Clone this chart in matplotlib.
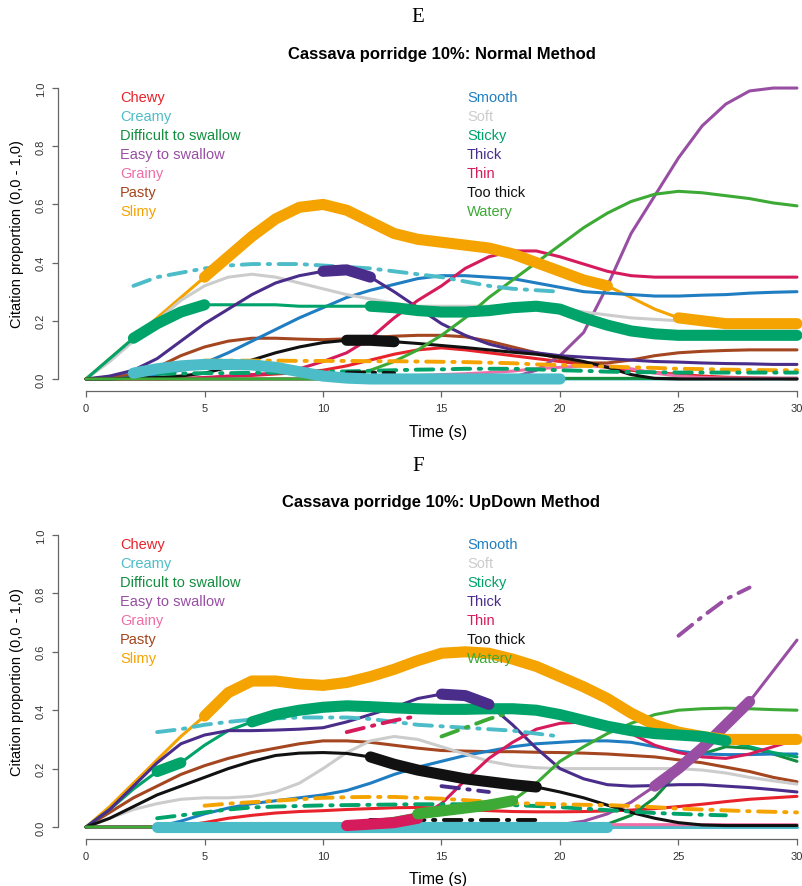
import numpy as np
import matplotlib.pyplot as plt

plt.rcParams['font.family'] = ['Liberation Sans', 'DejaVu Sans']

time = list(range(31))

attributes = ["Chewy", "Creamy", "Difficult to swallow", "Easy to swallow", "Grainy", "Pasty", "Slimy",
              "Smooth", "Soft", "Sticky", "Thick", "Thin", "Too thick", "Watery"]
colors = ["#E8232B", "#4CBDC8", "#138E3F", "#984EA3", "#EE6EA7", "#A4461F", "#F5A300",
          "#1F7DC1", "#CCCCCC", "#00A36A", "#4A2D8A", "#D61B5C", "#111111", "#3CAA35"]

# ---- Normal method (panel E) ----
normal_chewy = [0, 0, 0, 0, 0, 0.003, 0.008, 0.012, 0.017, 0.022, 0.03, 0.045, 0.065, 0.085, 0.1,
                0.107, 0.1, 0.09, 0.08, 0.07, 0.06, 0.05, 0.04, 0.03, 0.022, 0.016, 0.01, 0.006, 0.004, 0.002, 0]
normal_creamy = [0, 0.005, 0.02, 0.035, 0.045, 0.05, 0.05, 0.048, 0.04, 0.025, 0.01, 0.003, 0, 0, 0,
                 0, 0, 0, 0, 0, 0, 0, 0, 0, 0, 0, 0, 0, 0, 0, 0]
normal_difficult = [0, 0, 0, 0, 0, 0, 0, 0, 0, 0, 0.002, 0.002, 0.002, 0.002, 0.002,
                    0.002, 0.002, 0.002, 0.002, 0.002, 0.002, 0.002, 0.002, 0.002, 0.002, 0.002, 0.002, 0.002, 0.002, 0.002, 0.002]
normal_easy = [0, 0, 0, 0, 0, 0, 0, 0, 0, 0, 0, 0, 0, 0, 0, 0, 0, 0,
               0.005, 0.03, 0.08, 0.16, 0.32, 0.5, 0.63, 0.76, 0.87, 0.945, 0.99, 1.0, 1.0]
normal_grainy = [0, 0, 0, 0, 0, 0, 0, 0, 0, 0, 0.003, 0.005, 0.007, 0.01, 0.012,
                 0.015, 0.018, 0.022, 0.027, 0.035, 0.04, 0.045, 0.045, 0.035, 0.02, 0.01, 0.005, 0.003, 0.003, 0.003, 0.003]
normal_pasty = [0, 0.005, 0.015, 0.04, 0.08, 0.11, 0.13, 0.14, 0.14, 0.137, 0.135, 0.138, 0.142, 0.147, 0.15,
                0.15, 0.145, 0.13, 0.11, 0.09, 0.07, 0.055, 0.055, 0.065, 0.08, 0.09, 0.095, 0.098, 0.1, 0.1, 0.1]
normal_slimy = [0, 0.07, 0.14, 0.21, 0.28, 0.35, 0.42, 0.49, 0.55, 0.59, 0.60, 0.58, 0.54, 0.50, 0.48,
                0.47, 0.46, 0.45, 0.43, 0.40, 0.37, 0.34, 0.32, 0.28, 0.24, 0.21, 0.20, 0.19, 0.19, 0.19, 0.19]
normal_smooth = [0, 0, 0.005, 0.015, 0.03, 0.055, 0.09, 0.13, 0.17, 0.21, 0.245, 0.28, 0.305, 0.325, 0.345,
                 0.355, 0.355, 0.35, 0.345, 0.33, 0.315, 0.3, 0.295, 0.29, 0.285, 0.285, 0.288, 0.29, 0.295, 0.298, 0.30]
normal_soft = [0, 0.06, 0.13, 0.2, 0.27, 0.32, 0.35, 0.36, 0.35, 0.33, 0.31, 0.29, 0.275, 0.26, 0.25,
               0.25, 0.25, 0.25, 0.25, 0.25, 0.245, 0.23, 0.22, 0.21, 0.205, 0.2, 0.2, 0.2, 0.2, 0.2, 0.2]
normal_sticky = [0, 0.07, 0.14, 0.19, 0.23, 0.255, 0.255, 0.255, 0.255, 0.25, 0.25, 0.25, 0.25, 0.245, 0.235,
                 0.23, 0.23, 0.235, 0.245, 0.25, 0.24, 0.21, 0.185, 0.165, 0.155, 0.15, 0.15, 0.15, 0.15, 0.15, 0.15]
normal_thick = [0, 0.01, 0.03, 0.07, 0.13, 0.19, 0.24, 0.29, 0.33, 0.355, 0.37, 0.375, 0.35, 0.3, 0.245,
                0.19, 0.15, 0.12, 0.1, 0.09, 0.08, 0.075, 0.07, 0.065, 0.06, 0.058, 0.055, 0.053, 0.052, 0.05, 0.05]
normal_thin = [0, 0, 0, 0, 0.002, 0.005, 0.01, 0.015, 0.02, 0.035, 0.06, 0.09, 0.14, 0.21, 0.27,
               0.32, 0.38, 0.42, 0.44, 0.44, 0.42, 0.395, 0.37, 0.355, 0.35, 0.35, 0.35, 0.35, 0.35, 0.35, 0.35]
normal_toothick = [0, 0, 0.003, 0.005, 0.01, 0.02, 0.04, 0.065, 0.09, 0.11, 0.125, 0.133, 0.133, 0.128, 0.122,
                   0.115, 0.108, 0.1, 0.092, 0.085, 0.075, 0.06, 0.04, 0.015, 0.002, 0, 0, 0, 0, 0, 0]
normal_watery = [0, 0, 0, 0, 0, 0, 0, 0, 0, 0, 0, 0.01, 0.03, 0.06, 0.10,
                 0.15, 0.21, 0.28, 0.34, 0.40, 0.46, 0.52, 0.57, 0.61, 0.635, 0.645, 0.64, 0.63, 0.62, 0.605, 0.595]

# significant (thick) stretches, (from, to) in seconds
normal_thick_parts = {"Creamy": [(2, 20)], "Slimy": [(5, 22), (25, 30)], "Sticky": [(2, 5), (12, 30)],
                      "Thick": [(10, 12)], "Too thick": [(11, 13)]}

# dot-dash curves
normal_dash_creamy = [0.32, 0.35, 0.365, 0.38, 0.39, 0.395, 0.395, 0.395, 0.39, 0.385, 0.38, 0.37,
                      0.36, 0.35, 0.335, 0.32, 0.31, 0.305, 0.30]
normal_dash_slimy = [0.063, 0.063, 0.063, 0.063, 0.062, 0.062, 0.062, 0.061, 0.061, 0.06, 0.059, 0.058, 0.056,
                     0.054, 0.05, 0.048, 0.045, 0.043, 0.04, 0.038, 0.035, 0.034, 0.032, 0.031, 0.03, 0.03]
normal_dash_sticky = [0.018, 0.019, 0.02, 0.02, 0.021, 0.022, 0.023, 0.025, 0.026, 0.028, 0.03, 0.032, 0.033, 0.035,
                      0.035, 0.035, 0.033, 0.03, 0.028, 0.025, 0.024, 0.023, 0.022, 0.022, 0.022, 0.022, 0.022, 0.022]
normal_dash_toothick = [0.022, 0.022, 0.02]

# ---- UpDown method (panel F) ----
updown_chewy = [0, 0, 0, 0, 0.003, 0.015, 0.03, 0.04, 0.048, 0.053, 0.056, 0.06, 0.063, 0.066, 0.067,
                0.065, 0.06, 0.056, 0.053, 0.052, 0.052, 0.053, 0.055, 0.058, 0.063, 0.07, 0.078, 0.087, 0.095, 0.1, 0.105]
updown_creamy = [0, 0, 0, 0, 0, 0, 0, 0, 0, 0, 0, 0, 0, 0, 0,
                 0, 0, 0, 0, 0, 0, 0, 0, 0, 0, 0, 0, 0, 0, 0, 0]
updown_difficult = [0, 0, 0, 0, 0, 0, 0, 0, 0, 0, 0, 0, 0, 0, 0, 0, 0, 0, 0, 0, 0, 0,
                    0.01, 0.04, 0.1, 0.19, 0.25, 0.275, 0.27, 0.25, 0.225]
updown_easy = [0, 0, 0, 0, 0, 0, 0, 0, 0, 0, 0, 0, 0, 0, 0, 0, 0, 0, 0,
               0.003, 0.008, 0.02, 0.045, 0.085, 0.14, 0.2, 0.27, 0.35, 0.43, 0.535, 0.64]
updown_grainy = [0, 0, 0, 0, 0, 0, 0, 0, 0, 0, 0, 0, 0.003, 0.005, 0.006,
                 0.007, 0.008, 0.008, 0.008, 0.008, 0.008, 0.008, 0.008, 0.008, 0.008, 0.008, 0.008, 0.008, 0.008, 0.008, 0.008]
updown_pasty = [0, 0.05, 0.1, 0.14, 0.18, 0.21, 0.235, 0.255, 0.27, 0.285, 0.295, 0.295, 0.29, 0.28, 0.27,
                0.262, 0.26, 0.258, 0.258, 0.256, 0.255, 0.253, 0.25, 0.245, 0.24, 0.23, 0.22, 0.205, 0.19, 0.17, 0.155]
updown_slimy = [0, 0.07, 0.15, 0.23, 0.31, 0.38, 0.46, 0.50, 0.50, 0.49, 0.485, 0.495, 0.515, 0.54, 0.57,
                0.595, 0.6, 0.595, 0.575, 0.55, 0.515, 0.48, 0.44, 0.39, 0.35, 0.325, 0.31, 0.30, 0.30, 0.30, 0.30]
updown_smooth = [0, 0, 0, 0, 0.02, 0.045, 0.065, 0.08, 0.09, 0.1, 0.11, 0.125, 0.15, 0.18, 0.205,
                 0.225, 0.245, 0.26, 0.275, 0.285, 0.29, 0.295, 0.295, 0.29, 0.275, 0.26, 0.25, 0.248, 0.248, 0.25, 0.25]
updown_soft = [0, 0.03, 0.06, 0.08, 0.095, 0.1, 0.1, 0.105, 0.12, 0.15, 0.2, 0.255, 0.295, 0.31, 0.3,
               0.275, 0.25, 0.225, 0.21, 0.203, 0.2, 0.2, 0.2, 0.2, 0.2, 0.2, 0.195, 0.185, 0.17, 0.158, 0.147]
updown_sticky = [0, 0.06, 0.13, 0.19, 0.22, 0.28, 0.33, 0.36, 0.385, 0.4, 0.41, 0.415, 0.412, 0.408, 0.405,
                 0.403, 0.403, 0.405, 0.405, 0.4, 0.385, 0.365, 0.345, 0.33, 0.32, 0.315, 0.31, 0.295, 0.275, 0.255, 0.24]
updown_thick = [0, 0.06, 0.14, 0.22, 0.285, 0.315, 0.33, 0.33, 0.332, 0.335, 0.34, 0.36, 0.385, 0.41, 0.44,
                0.455, 0.45, 0.42, 0.35, 0.27, 0.2, 0.165, 0.145, 0.14, 0.142, 0.145, 0.145, 0.14, 0.135, 0.128, 0.12]
updown_thin = [0, 0, 0, 0, 0, 0, 0, 0, 0, 0, 0, 0.005, 0.01, 0.015, 0.03,
               0.08, 0.16, 0.235, 0.29, 0.335, 0.355, 0.36, 0.35, 0.32, 0.28, 0.255, 0.24, 0.235, 0.25, 0.275, 0.30]
updown_toothick = [0, 0.03, 0.07, 0.11, 0.14, 0.17, 0.2, 0.225, 0.245, 0.253, 0.255, 0.252, 0.24, 0.215, 0.195,
                   0.18, 0.165, 0.155, 0.145, 0.137, 0.12, 0.1, 0.075, 0.05, 0.03, 0.015, 0.007, 0.005, 0.005, 0.005, 0.005]
updown_watery = [0, 0, 0, 0, 0, 0, 0, 0, 0, 0, 0, 0.01, 0.02, 0.03, 0.045,
                 0.055, 0.065, 0.075, 0.09, 0.15, 0.225, 0.275, 0.32, 0.355, 0.385, 0.4, 0.405, 0.407, 0.405, 0.402, 0.40]

updown_thick_parts = {"Creamy": [(3, 22)], "Easy to swallow": [(24, 28)], "Slimy": [(5, 30)],
                      "Sticky": [(3, 4), (7, 27)], "Thick": [(15, 17)], "Thin": [(11, 14)],
                      "Too thick": [(12, 19)], "Watery": [(14, 18)]}

updown_dash_creamy = [0.325, 0.335, 0.35, 0.36, 0.368, 0.372, 0.375, 0.375, 0.375, 0.37, 0.36, 0.35,
                      0.345, 0.34, 0.335, 0.33, 0.32, 0.31]
updown_dash_sticky = [0.03, 0.04, 0.05, 0.06, 0.067, 0.07, 0.072, 0.074, 0.075, 0.076, 0.077, 0.078, 0.078,
                      0.078, 0.077, 0.075, 0.072, 0.068, 0.063, 0.058, 0.053, 0.048, 0.045, 0.042, 0.04]
updown_dash_slimy = [0.073, 0.08, 0.085, 0.09, 0.095, 0.1, 0.102, 0.103, 0.103, 0.1, 0.097, 0.092, 0.087,
                     0.082, 0.08, 0.078, 0.076, 0.075, 0.072, 0.068, 0.063, 0.06, 0.057, 0.054, 0.052, 0.05]
updown_dash_thin = [0.325, 0.345, 0.365, 0.38]
updown_dash_watery = [0.31, 0.34, 0.37, 0.395]
updown_dash_easy = [0.655, 0.72, 0.78, 0.82]
updown_dash_thick = [0.14, 0.13, 0.12]
updown_dash_toothick = [0.025, 0.025, 0.025, 0.025, 0.025, 0.025, 0.025, 0.025]

normal_curves = [normal_chewy, normal_creamy, normal_difficult, normal_easy, normal_grainy, normal_pasty,
                 normal_slimy, normal_smooth, normal_soft, normal_sticky, normal_thick, normal_thin,
                 normal_toothick, normal_watery]
updown_curves = [updown_chewy, updown_creamy, updown_difficult, updown_easy, updown_grainy, updown_pasty,
                 updown_slimy, updown_smooth, updown_soft, updown_sticky, updown_thick, updown_thin,
                 updown_toothick, updown_watery]
normal_dashes = [("Creamy", 2, normal_dash_creamy), ("Slimy", 5, normal_dash_slimy),
                 ("Sticky", 3, normal_dash_sticky), ("Too thick", 11, normal_dash_toothick)]
updown_dashes = [("Creamy", 3, updown_dash_creamy), ("Sticky", 3, updown_dash_sticky),
                 ("Slimy", 5, updown_dash_slimy), ("Thin", 11, updown_dash_thin),
                 ("Watery", 15, updown_dash_watery), ("Easy to swallow", 25, updown_dash_easy),
                 ("Thick", 15, updown_dash_thick), ("Too thick", 12, updown_dash_toothick)]

W, H = 803, 887
fig = plt.figure(figsize=(W / 100, H / 100), dpi=100)


def tds_panel(ax, curves, thick_parts, dashes):
    t = np.asarray(time)
    col = dict(zip(attributes, colors))
    for name, c, vals in zip(attributes, colors, curves):
        v = np.asarray(vals)
        ax.plot(t, v, color=c, lw=2.2, solid_capstyle="round", solid_joinstyle="round", zorder=2)
        for a, b in thick_parts.get(name, []):
            m = (t >= a) & (t <= b)
            ax.plot(t[m], v[m], color=c, lw=8, solid_capstyle="round", solid_joinstyle="round", zorder=3)
    for name, start, vals in dashes:
        tt = np.arange(start, start + len(vals))
        ax.plot(tt, vals, color=col[name], lw=2.8, dashes=(4.5, 2.2, 0.6, 2.2),
                dash_capstyle="round", zorder=2.5)

    # coloured legend text, two columns of seven
    for i, (name, c) in enumerate(zip(attributes, colors)):
        x = 1.43 if i < 7 else 16.08
        y = 0.969 - (i % 7) * 0.0653
        ax.text(x, y, name, color=c, fontsize=10.5, ha="left", va="center")

    ax.set_xlim(-1.2, 31.2)
    ax.set_ylim(-0.04, 1.04)
    for s in ("top", "right"):
        ax.spines[s].set_visible(False)
    ax.spines["bottom"].set_bounds(0, 30)
    ax.spines["left"].set_bounds(0, 1)
    for s in ("bottom", "left"):
        ax.spines[s].set_color("#666666")
        ax.spines[s].set_linewidth(0.9)
    ax.set_xticks(np.arange(0, 31, 5))
    ax.set_yticks(np.arange(0, 1.01, 0.2))
    ax.set_yticklabels(["%.1f" % v for v in np.arange(0, 1.01, 0.2)], rotation=90, va="center")
    ax.tick_params(axis="x", length=4.5, width=0.9, color="#666666", labelsize=8, pad=4.5, labelcolor="#333333")
    ax.tick_params(axis="y", length=4.5, width=0.9, color="#666666", labelsize=8, pad=4, labelcolor="#333333")


ax1 = fig.add_axes([57.6 / W, 1 - 391.6 / H, 767.8 / W, 314.2 / H])
tds_panel(ax1, normal_curves, normal_thick_parts, normal_dashes)
ax2 = fig.add_axes([57.6 / W, 1 - 839.7 / H, 767.8 / W, 315.4 / H])
tds_panel(ax2, updown_curves, updown_thick_parts, updown_dashes)

serif = ["Liberation Serif", "DejaVu Serif"]
fig.text(418 / W, 1 - 18 / H, "E", family=serif, fontsize=15, ha="center", va="center")
fig.text(441.5 / W, 1 - 55 / H, "Cassava porridge 10%: Normal Method", fontsize=12,
         fontweight="bold", ha="center", va="center")
fig.text(418 / W, 1 - 467 / H, "F", family=serif, fontsize=15, ha="center", va="center")
fig.text(441.5 / W, 1 - 503 / H, "Cassava porridge 10%: UpDown Method", fontsize=12,
         fontweight="bold", ha="center", va="center")

for yc, yl in ((432, 234.5), (880, 682)):
    fig.text(438 / W, 1 - yc / H, "Time (s)", fontsize=11.5, ha="center", va="center")
    fig.text(17 / W, 1 - yl / H, "Citation proportion (0,0 - 1,0)", fontsize=10.5,
             rotation=90, ha="center", va="center")

fig.savefig("out.png", dpi=100)
